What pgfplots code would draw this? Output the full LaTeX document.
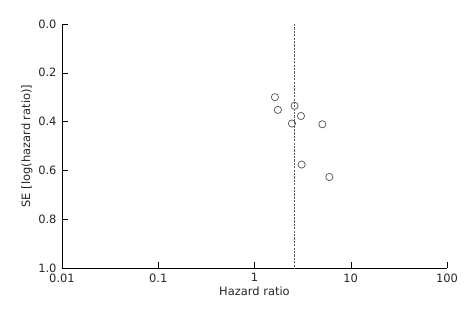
\documentclass[border=0pt]{standalone}
\usepackage{pgfplots}
\pgfplotsset{compat=1.18}
\usepackage{fontspec}
\setmainfont{DejaVu Sans}
\begin{document}
\begin{tikzpicture}
\begin{semilogxaxis}[
  scale only axis,
  width=385bp, height=244bp,
  xmin=0.01, xmax=100, ymin=0, ymax=1,
  y dir=reverse,
  axis lines*=left,
  xtick={0.01,0.1,1,10,100},
  xticklabels={0.01,0.1,1,10,100},
  ytick={0,0.2,0.4,0.6,0.8,1.0},
  yticklabels={0.0,0.2,0.4,0.6,0.8,1.0},
  xminorticks=false, yminorticks=false,
  tick style={black, thin},
  major tick length=6bp,
  tick align=inside,
  ticklabel style={font=\fontsize{11.5}{13}\selectfont, text=black!85},
  label style={font=\fontsize{11.5}{13}\selectfont, text=black!85},
  xticklabel style={yshift=-2bp},
  yticklabel style={xshift=-2bp},
  xlabel={Hazard ratio},
  ylabel={SE [log(hazard ratio)]},
  xlabel style={yshift=2bp},
  ylabel style={yshift=-1bp},
  /pgf/number format/assume math mode=true,
  clip=false,
]
\addplot[only marks, mark=o, mark size=3.6bp, black!65, mark options={line width=0.75pt}] coordinates {
(1.63,0.300) (1.75,0.352) (2.61,0.335) (3.04,0.377)
(2.45,0.408) (5.07,0.411) (3.09,0.576) (5.99,0.627)
};
\addplot[black!65, dash pattern=on 2.2pt off 1.2pt, line width=1pt] coordinates {(2.61,0) (2.61,1)};
\end{semilogxaxis}
\path (current axis.south west) ++(-62bp,-52bp) rectangle ++(470bp,320bp);
\end{tikzpicture}
\end{document}
